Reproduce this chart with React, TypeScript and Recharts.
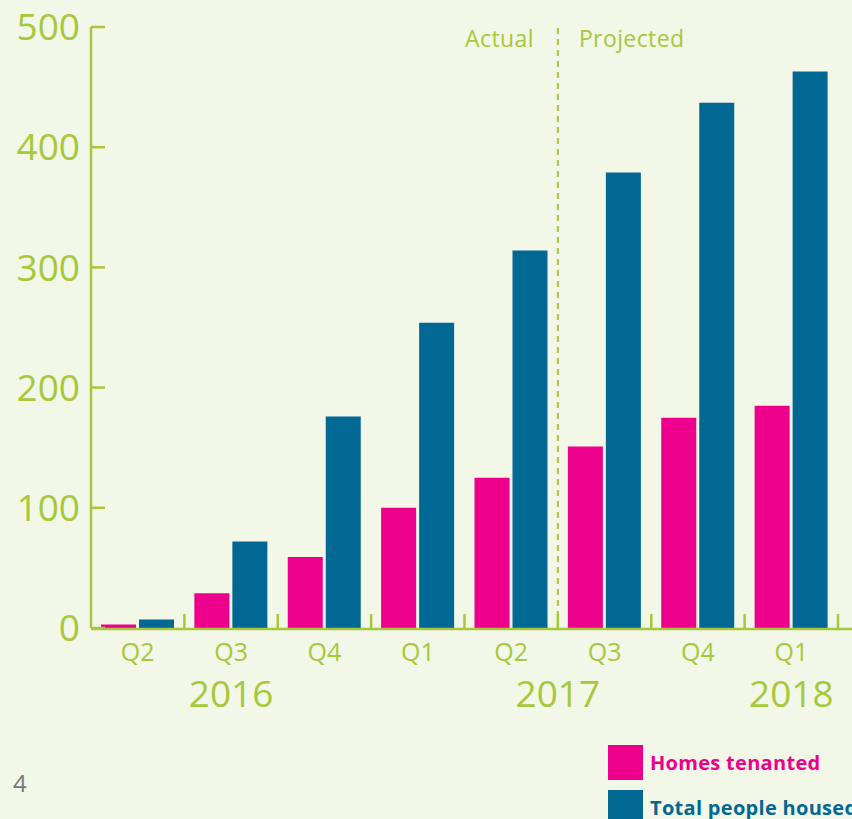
import { BarChart, Bar, XAxis, YAxis, ReferenceLine } from "recharts";

const quarters = ["Q2", "Q3", "Q4", "Q1", "Q2", "Q3", "Q4", "Q1"];
const periods = ["2016-Q2", "2016-Q3", "2016-Q4", "2017-Q1", "2017-Q2", "2017-Q3", "2017-Q4", "2018-Q1"];
const homesTenanted = [3, 29, 59, 100, 125, 151, 175, 185];
const totalPeopleHoused = [7, 72, 176, 254, 314, 379, 437, 463];
const yTicks = [0, 100, 200, 300, 400, 500];
const boundaryTicks = [1, 2, 3, 4, 5, 6, 7, 8];
const yearTicks = [1.5, 5, 7.5];
const yearLabels = ["2016", "2017", "2018"];
const seriesNames = ["Homes tenanted", "Total people housed"];

const GREEN = "#a7c83a";
const PINK = "#ec008c";
const BLUE = "#006892";
const BG = "#f2f7e8";
const FONT = "'Open Sans', sans-serif";

const data = periods.map((p, i) => ({
  period: p,
  slot: i + 0.5,
  homes: homesTenanted[i],
  people: totalPeopleHoused[i],
}));

function QuarterTick({ x, y, index }: any) {
  return (
    <text x={x} y={y + 33} textAnchor="middle" fill={GREEN} fontSize={25} fontFamily={FONT}>
      {quarters[index]}
    </text>
  );
}

function YearTick({ x, y, payload }: any) {
  const i = yearTicks.indexOf(payload.value);
  return (
    <text x={x} y={y + 77} textAnchor="middle" fill={GREEN} fontSize={37} fontFamily={FONT}>
      {yearLabels[i]}
    </text>
  );
}

function SplitLabel({ viewBox }: any) {
  const x = viewBox.x;
  const y = viewBox.y;
  return (
    <g fontFamily={FONT} fontSize={23} fill={GREEN} letterSpacing={0.4}>
      <text x={x - 24} y={y + 20} textAnchor="end">Actual</text>
      <text x={x + 21} y={y + 20} textAnchor="start">Projected</text>
    </g>
  );
}

export default function App() {
  return (
    <div style={{ position: "absolute", left: 0, top: 0, width: 852, height: 819, background: BG, overflow: "hidden" }}>
      <BarChart
        width={852}
        height={819}
        data={data}
        margin={{ top: 27, right: 0, bottom: 188, left: 0 }}
        barSize={35}
        barGap={3}
      >
        <YAxis
          width={91}
          domain={[0, 500]}
          ticks={yTicks}
          interval={0}
          tickSize={-14}
          tickMargin={25}
          axisLine={{ stroke: GREEN, strokeWidth: 2.5 }}
          tickLine={{ stroke: GREEN, strokeWidth: 2.5 }}
          tick={{ fill: GREEN, fontSize: 37, fontFamily: FONT }}
        />
        <XAxis
          xAxisId="edge"
          dataKey="slot"
          type="number"
          domain={[0, 8]}
          allowDataOverflow
          ticks={boundaryTicks}
          interval={0}
          height={1}
          tickSize={-15}
          tickFormatter={() => ""}
          padding={{ left: 0, right: 14 }}
          axisLine={{ stroke: GREEN, strokeWidth: 2.5 }}
          tickLine={{ stroke: GREEN, strokeWidth: 2.5 }}
        />
        <XAxis
          xAxisId="cat"
          dataKey="period"
          height={1}
          interval={0}
          axisLine={false}
          tickLine={false}
          tickSize={0}
          tickMargin={0}
          padding={{ left: 0, right: 14 }}
          tick={<QuarterTick />}
        />
        <XAxis
          xAxisId="year"
          dataKey="slot"
          type="number"
          domain={[0, 8]}
          allowDataOverflow
          ticks={yearTicks}
          interval={0}
          height={1}
          axisLine={false}
          tickLine={false}
          tickSize={0}
          tickMargin={0}
          padding={{ left: 0, right: 14 }}
          tick={<YearTick />}
        />
        <ReferenceLine
          xAxisId="edge"
          x={5}
          stroke={GREEN}
          strokeWidth={2}
          strokeDasharray="6 5"
          label={<SplitLabel />}
        />
        <Bar xAxisId="cat" dataKey="homes" name={seriesNames[0]} fill={PINK} isAnimationActive={false} />
        <Bar xAxisId="cat" dataKey="people" name={seriesNames[1]} fill={BLUE} isAnimationActive={false} />
      </BarChart>
      <div style={{ position: "absolute", left: 13, top: 766, fontFamily: FONT, fontSize: 24, color: "#777" }}>4</div>
      <div style={{ position: "absolute", left: 608, top: 745, fontFamily: FONT, fontWeight: 700, fontSize: 20, letterSpacing: 0.3 }}>
        {seriesNames.map((name, i) => (
          <div key={name} style={{ display: "flex", alignItems: "center", height: 35, marginBottom: 10, whiteSpace: "nowrap" }}>
            <div style={{ width: 35, height: 35, background: i === 0 ? PINK : BLUE, marginRight: 7, flexShrink: 0 }} />
            <span style={{ color: i === 0 ? PINK : BLUE }}>{name}</span>
          </div>
        ))}
      </div>
    </div>
  );
}
